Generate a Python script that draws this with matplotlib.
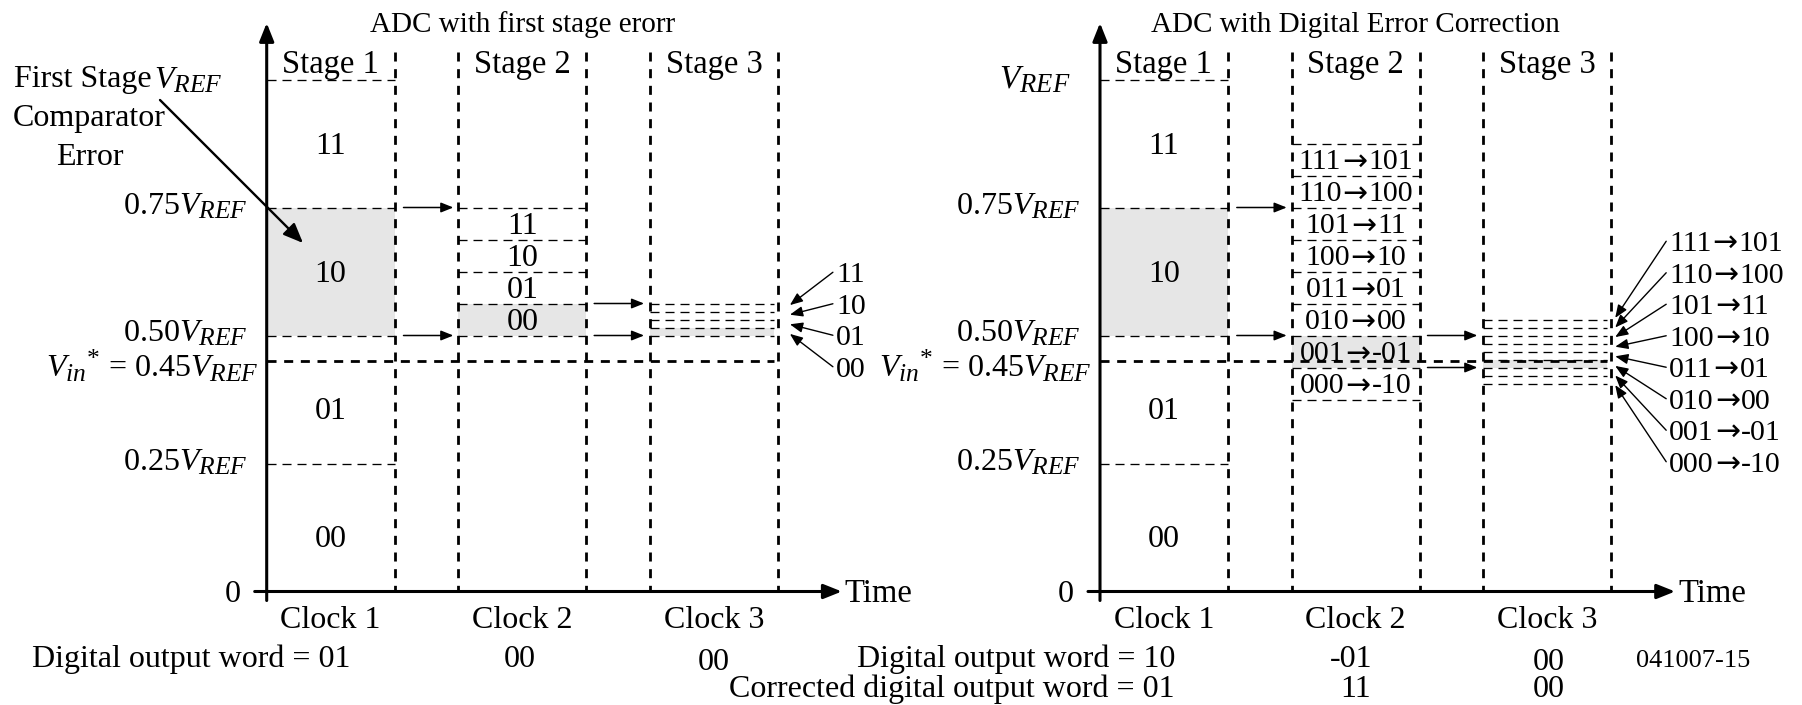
import matplotlib
matplotlib.use('Agg')
import matplotlib.pyplot as plt

try:
    import matplotlib._mathtext as _mt
    _mt.SHRINK_FACTOR = 0.8
except Exception:
    pass

plt.rcParams['font.family'] = ['Liberation Serif', 'DejaVu Serif']
plt.rcParams['mathtext.fontset'] = 'custom'
plt.rcParams['mathtext.rm'] = 'Liberation Serif'
plt.rcParams['mathtext.it'] = 'Liberation Serif:italic'
plt.rcParams['mathtext.bf'] = 'Liberation Serif:bold'
plt.rcParams['lines.scale_dashes'] = False
plt.rcParams['lines.solid_capstyle'] = 'butt'
plt.rcParams['lines.dash_capstyle'] = 'butt'

# ---------------- data ----------------
titles = ['ADC with first stage erorr', 'ADC with Digital Error Correction']
stage_names = ['Stage 1', 'Stage 2', 'Stage 3']
clock_names = ['Clock 1', 'Clock 2', 'Clock 3']

vin = 0.45
stage1_edges = [0.0, 0.25, 0.5, 0.75, 1.0]
stage1_codes = ['00', '01', '10', '11']
stage1_selected = 2

left_s2_edges = [0.5, 0.5625, 0.625, 0.6875, 0.75]
left_s2_codes = ['00', '01', '10', '11']
left_s2_selected = 0
left_s3_edges = [0.5, 0.515625, 0.53125, 0.546875, 0.5625]
left_s3_codes = ['00', '01', '10', '11']
left_s3_selected = 0

right_s2_edges = [0.375, 0.4375, 0.5, 0.5625, 0.625, 0.6875, 0.75, 0.8125, 0.875]
right_s2_codes = ['000→-10', '001→-01', '010→00', '011→01',
                  '100→10', '101→11', '110→100', '111→101']
right_s2_selected = 1
right_s3_edges = [0.40625, 0.421875, 0.4375, 0.453125, 0.46875,
                  0.484375, 0.5, 0.515625, 0.53125]
right_s3_codes = ['000→-10', '001→-01', '010→00', '011→01',
                  '100→10', '101→11', '110→100', '111→101']
right_s3_selected = 2

level_ticks = [0.25, 0.5, 0.75]
level_tick_labels = [r'0.25$V_{REF}$', r'0.50$V_{REF}$', r'0.75$V_{REF}$']
vref_label = r'$V_{REF}$'
vin_label = r'$V_{in}$$^{*}$ = 0.45$V_{REF}$'

left_outputs = ['01', '00', '00']
right_outputs = ['10', '-01', '00']
right_corrected = ['01', '11', '00']
figure_id = '041007-15'

# ---------------- layout ----------------
W, H, DPI = 1802, 705, 100
Y0_PX, V_PX, C_PX = 591.5, 512.0, 191.7
STAGE_W = 2 / 3
S3_END = 0.645
GRAY = '#e6e6e6'
FS = 23
FS_BAND = 21.5
STAGE1_LABEL_DY = [-9, -9, 0, 0]   # pixel nudges of the stage-1 code labels
LEVEL_LABEL_DY = [7, 6, 7]         # baseline drop (px) of the level labels


def px_x(p):
    return p / C_PX


def px_y(p):
    return p / V_PX


Y_TOP = (Y0_PX - 23) / V_PX
X_END = 3.0
STAGE_TOP = (Y0_PX - 52) / V_PX
STAGE_LABEL_Y = (Y0_PX - 73) / V_PX
TITLE_Y = (Y0_PX - 32) / V_PX
CLOCK_Y = (Y0_PX - 628) / V_PX
ROW1_Y = (Y0_PX - 667) / V_PX
ROW2_Y = (Y0_PX - 697) / V_PX

fig = plt.figure(figsize=(W / DPI, H / DPI), dpi=DPI)
fig.patch.set_facecolor('white')
RENDERER = fig.canvas.get_renderer()


def make_axes(axis_px, left_px, right_px):
    ax = fig.add_axes([left_px / W, 0, (right_px - left_px) / W, 1])
    ax.set_xlim((left_px - axis_px) / C_PX, (right_px - axis_px) / C_PX)
    ax.set_ylim((Y0_PX - H) / V_PX, Y0_PX / V_PX)
    ax.set_axis_off()
    return ax


THIN = dict(color='black', lw=0.95, dashes=(6.5, 4.3), zorder=2)
THICK = dict(color='black', lw=2.0, dashes=(6.5, 5.5), zorder=3)


def arrow(ax, xy_from, xy_to, ms=15, hl=0.5, hw=0.2, lw=1.1):
    ax.annotate('', xy=xy_to, xytext=xy_from,
                arrowprops=dict(arrowstyle=f'-|>,head_length={hl},head_width={hw}',
                                mutation_scale=ms, lw=lw, color='black',
                                shrinkA=0, shrinkB=0),
                annotation_clip=False)


def text_width_px(s, fs, family=None):
    kw = {} if family is None else {'family': family}
    t = fig.text(0, 0, s, fontsize=fs, **kw)
    w = t.get_window_extent(RENDERER).width
    t.remove()
    return w


def mid_text(ax, x, yc, s, fs=FS, ha='center'):
    yb = yc - px_y(0.33 * fs * DPI / 72)
    if '→' not in s:
        ax.text(x, yb, s, ha=ha, va='baseline', fontsize=fs)
        return
    a, b = s.split('→')
    gap = 1.0
    wa = text_width_px(a, fs)
    wr = text_width_px('→', fs, ['DejaVu Sans'])
    wb = text_width_px(b, fs)
    total = wa + wr + wb + 2 * gap
    x0 = x - px_x(total / 2) if ha == 'center' else x
    ax.text(x0, yb, a, ha='left', va='baseline', fontsize=fs)
    ax.text(x0 + px_x(wa + gap), yb, '→', ha='left', va='baseline', fontsize=fs,
            family=['DejaVu Sans'])
    ax.text(x0 + px_x(wa + wr + 2 * gap), yb, b, ha='left', va='baseline', fontsize=fs)


def bands(ax, x0, x1, edges, codes, selected, inside, fs, dys=None):
    ax.fill_between([x0, x1], edges[selected], edges[selected + 1],
                    color=GRAY, lw=0, zorder=1)
    for e in edges:
        if e > 0:
            ax.plot([x0, x1], [e, e], **THIN)
    if inside:
        for j, code in enumerate(codes):
            dy = 0 if dys is None else dys[j]
            mid_text(ax, (x0 + x1) / 2, (edges[j] + edges[j + 1]) / 2 + px_y(dy), code, fs=fs)


def draw_panel(ax, cfg):
    # axes
    arrow(ax, (0, -px_y(9)), (0, Y_TOP), ms=20, hl=0.55, hw=0.22, lw=2.2)
    arrow(ax, (-px_x(12), 0), (X_END, 0), ms=20, hl=0.55, hw=0.22, lw=2.2)
    ax.text(X_END + px_x(3), -px_y(10), 'Time', ha='left', va='baseline', fontsize=FS + 0.5)
    ax.text(-px_x(26), -px_y(10), '0', ha='right', va='baseline', fontsize=FS)

    # stage frames and labels
    for k, name in enumerate(stage_names):
        for x in (k, k + STAGE_W):
            if x > 0:
                ax.plot([x, x], [STAGE_TOP, 0], **THICK)
        ax.text(k + STAGE_W / 2, STAGE_LABEL_Y, name, ha='center', va='baseline', fontsize=FS + 0.5)
        ax.text(k + STAGE_W / 2, CLOCK_Y, clock_names[k], ha='center', va='baseline', fontsize=FS)
    ax.text(1 + STAGE_W / 2, TITLE_Y, cfg['title'], ha='center', va='baseline', fontsize=21)

    # level labels
    for lv, lab, dy in zip(level_ticks, level_tick_labels, LEVEL_LABEL_DY):
        ax.text(-px_x(19), lv - px_y(dy), lab, ha='right', va='baseline', fontsize=FS)
    ax.text(-px_x(cfg['vref_dx']), 1.0 - px_y(9), vref_label, ha='right', va='baseline',
            fontsize=cfg['vref_fs'])
    ax.text(-px_x(8), vin - px_y(16), vin_label, ha='right', va='baseline', fontsize=FS)

    # stage 1
    bands(ax, 0, STAGE_W, stage1_edges, stage1_codes, stage1_selected, True, FS, STAGE1_LABEL_DY)
    # stage 2
    e2 = cfg['s2_edges']
    bands(ax, 1, 1 + STAGE_W, e2, cfg['s2_codes'], cfg['s2_sel'], True, cfg['s2_fs'])
    # stage 3
    e3 = cfg['s3_edges']
    bands(ax, 2, 2 + S3_END, e3, cfg['s3_codes'], cfg['s3_sel'], False, FS_BAND)

    # input voltage line
    ax.plot([0, 2 + S3_END], [vin, vin], **THICK)

    # transfer arrows
    lo1, hi1 = stage1_edges[stage1_selected], stage1_edges[stage1_selected + 1]
    for y in (hi1, lo1):
        arrow(ax, (STAGE_W + px_x(9), y), (1 - px_x(5), y), ms=15, hl=0.5, hw=0.2, lw=1.1)
    lo2, hi2 = e2[cfg['s2_sel']], e2[cfg['s2_sel'] + 1]
    for y in (hi2, lo2):
        arrow(ax, (1 + STAGE_W + px_x(8), y), (2 - px_x(6), y), ms=15, hl=0.5, hw=0.2, lw=1.1)

    # stage 3 codes with pointers
    s3_right = 2 + STAGE_W
    codes = cfg['s3_codes']
    n = len(codes)
    mid = (e3[0] + e3[-1]) / 2
    tx = s3_right + px_x(58)
    for j, code in enumerate(codes):
        c = (e3[j] + e3[j + 1]) / 2
        ly = mid + (j - (n - 1) / 2) * px_y(31.5)
        mid_text(ax, tx, ly, code, fs=FS_BAND, ha='left')
        tip = (s3_right + px_x(cfg['tip_dx']), mid + (c - mid) * 1.2)
        arrow(ax, (tx - px_x(3), ly), tip, ms=14, hl=0.55, hw=0.22, lw=1.0)


# ---------------- left panel ----------------
axL = make_axes(266.7, 0, 880)
draw_panel(axL, dict(title=titles[0], vref_dx=44, vref_fs=FS,
                     s2_edges=left_s2_edges, s2_codes=left_s2_codes, s2_sel=left_s2_selected, s2_fs=FS,
                     s3_edges=left_s3_edges, s3_codes=left_s3_codes, s3_sel=left_s3_selected,
                     tip_dx=12))
axL.text(px_x(152 - 266.7), (Y0_PX - 87) / V_PX, 'First Stage', ha='right', va='baseline', fontsize=FS)
axL.text(px_x(89 - 266.7), (Y0_PX - 126) / V_PX, 'Comparator', ha='center', va='baseline', fontsize=FS)
axL.text(px_x(90 - 266.7), (Y0_PX - 165) / V_PX, 'Error', ha='center', va='baseline', fontsize=FS)
arrow(axL, (px_x(160 - 266.7), (Y0_PX - 100) / V_PX), (px_x(303 - 266.7), (Y0_PX - 243) / V_PX),
      ms=20, hl=0.6, hw=0.25, lw=1.7)

axL.text(0.4345, ROW1_Y, 'Digital output word = ' + left_outputs[0], ha='right', va='baseline', fontsize=FS)
axL.text(1.32, ROW1_Y, left_outputs[1], ha='center', va='baseline', fontsize=FS)
axL.text(2.334, ROW1_Y - px_y(3), left_outputs[2], ha='center', va='baseline', fontsize=FS)

# ---------------- right panel ----------------
axR = make_axes(1100, 880, 1802)
draw_panel(axR, dict(title=titles[1], vref_dx=30, vref_fs=FS + 1,
                     s2_edges=right_s2_edges, s2_codes=right_s2_codes, s2_sel=right_s2_selected, s2_fs=FS_BAND,
                     s3_edges=right_s3_edges, s3_codes=right_s3_codes, s3_sel=right_s3_selected,
                     tip_dx=4))
axR.text(0.391, ROW1_Y, 'Digital output word = ' + right_outputs[0], ha='right', va='baseline', fontsize=FS)
axR.text(1.309, ROW1_Y, right_outputs[1], ha='center', va='baseline', fontsize=FS)
axR.text(2.34, ROW1_Y - px_y(3), right_outputs[2], ha='center', va='baseline', fontsize=FS)
axR.text(0.391, ROW2_Y, 'Corrected digital output word = ' + right_corrected[0], ha='right', va='baseline', fontsize=FS)
axR.text(1.331, ROW2_Y, right_corrected[1], ha='center', va='baseline', fontsize=FS)
axR.text(2.34, ROW2_Y, right_corrected[2], ha='center', va='baseline', fontsize=FS)
axR.text(2.796, ROW1_Y, figure_id, ha='left', va='baseline', fontsize=19)

fig.savefig('out.png', dpi=DPI, facecolor='white')
